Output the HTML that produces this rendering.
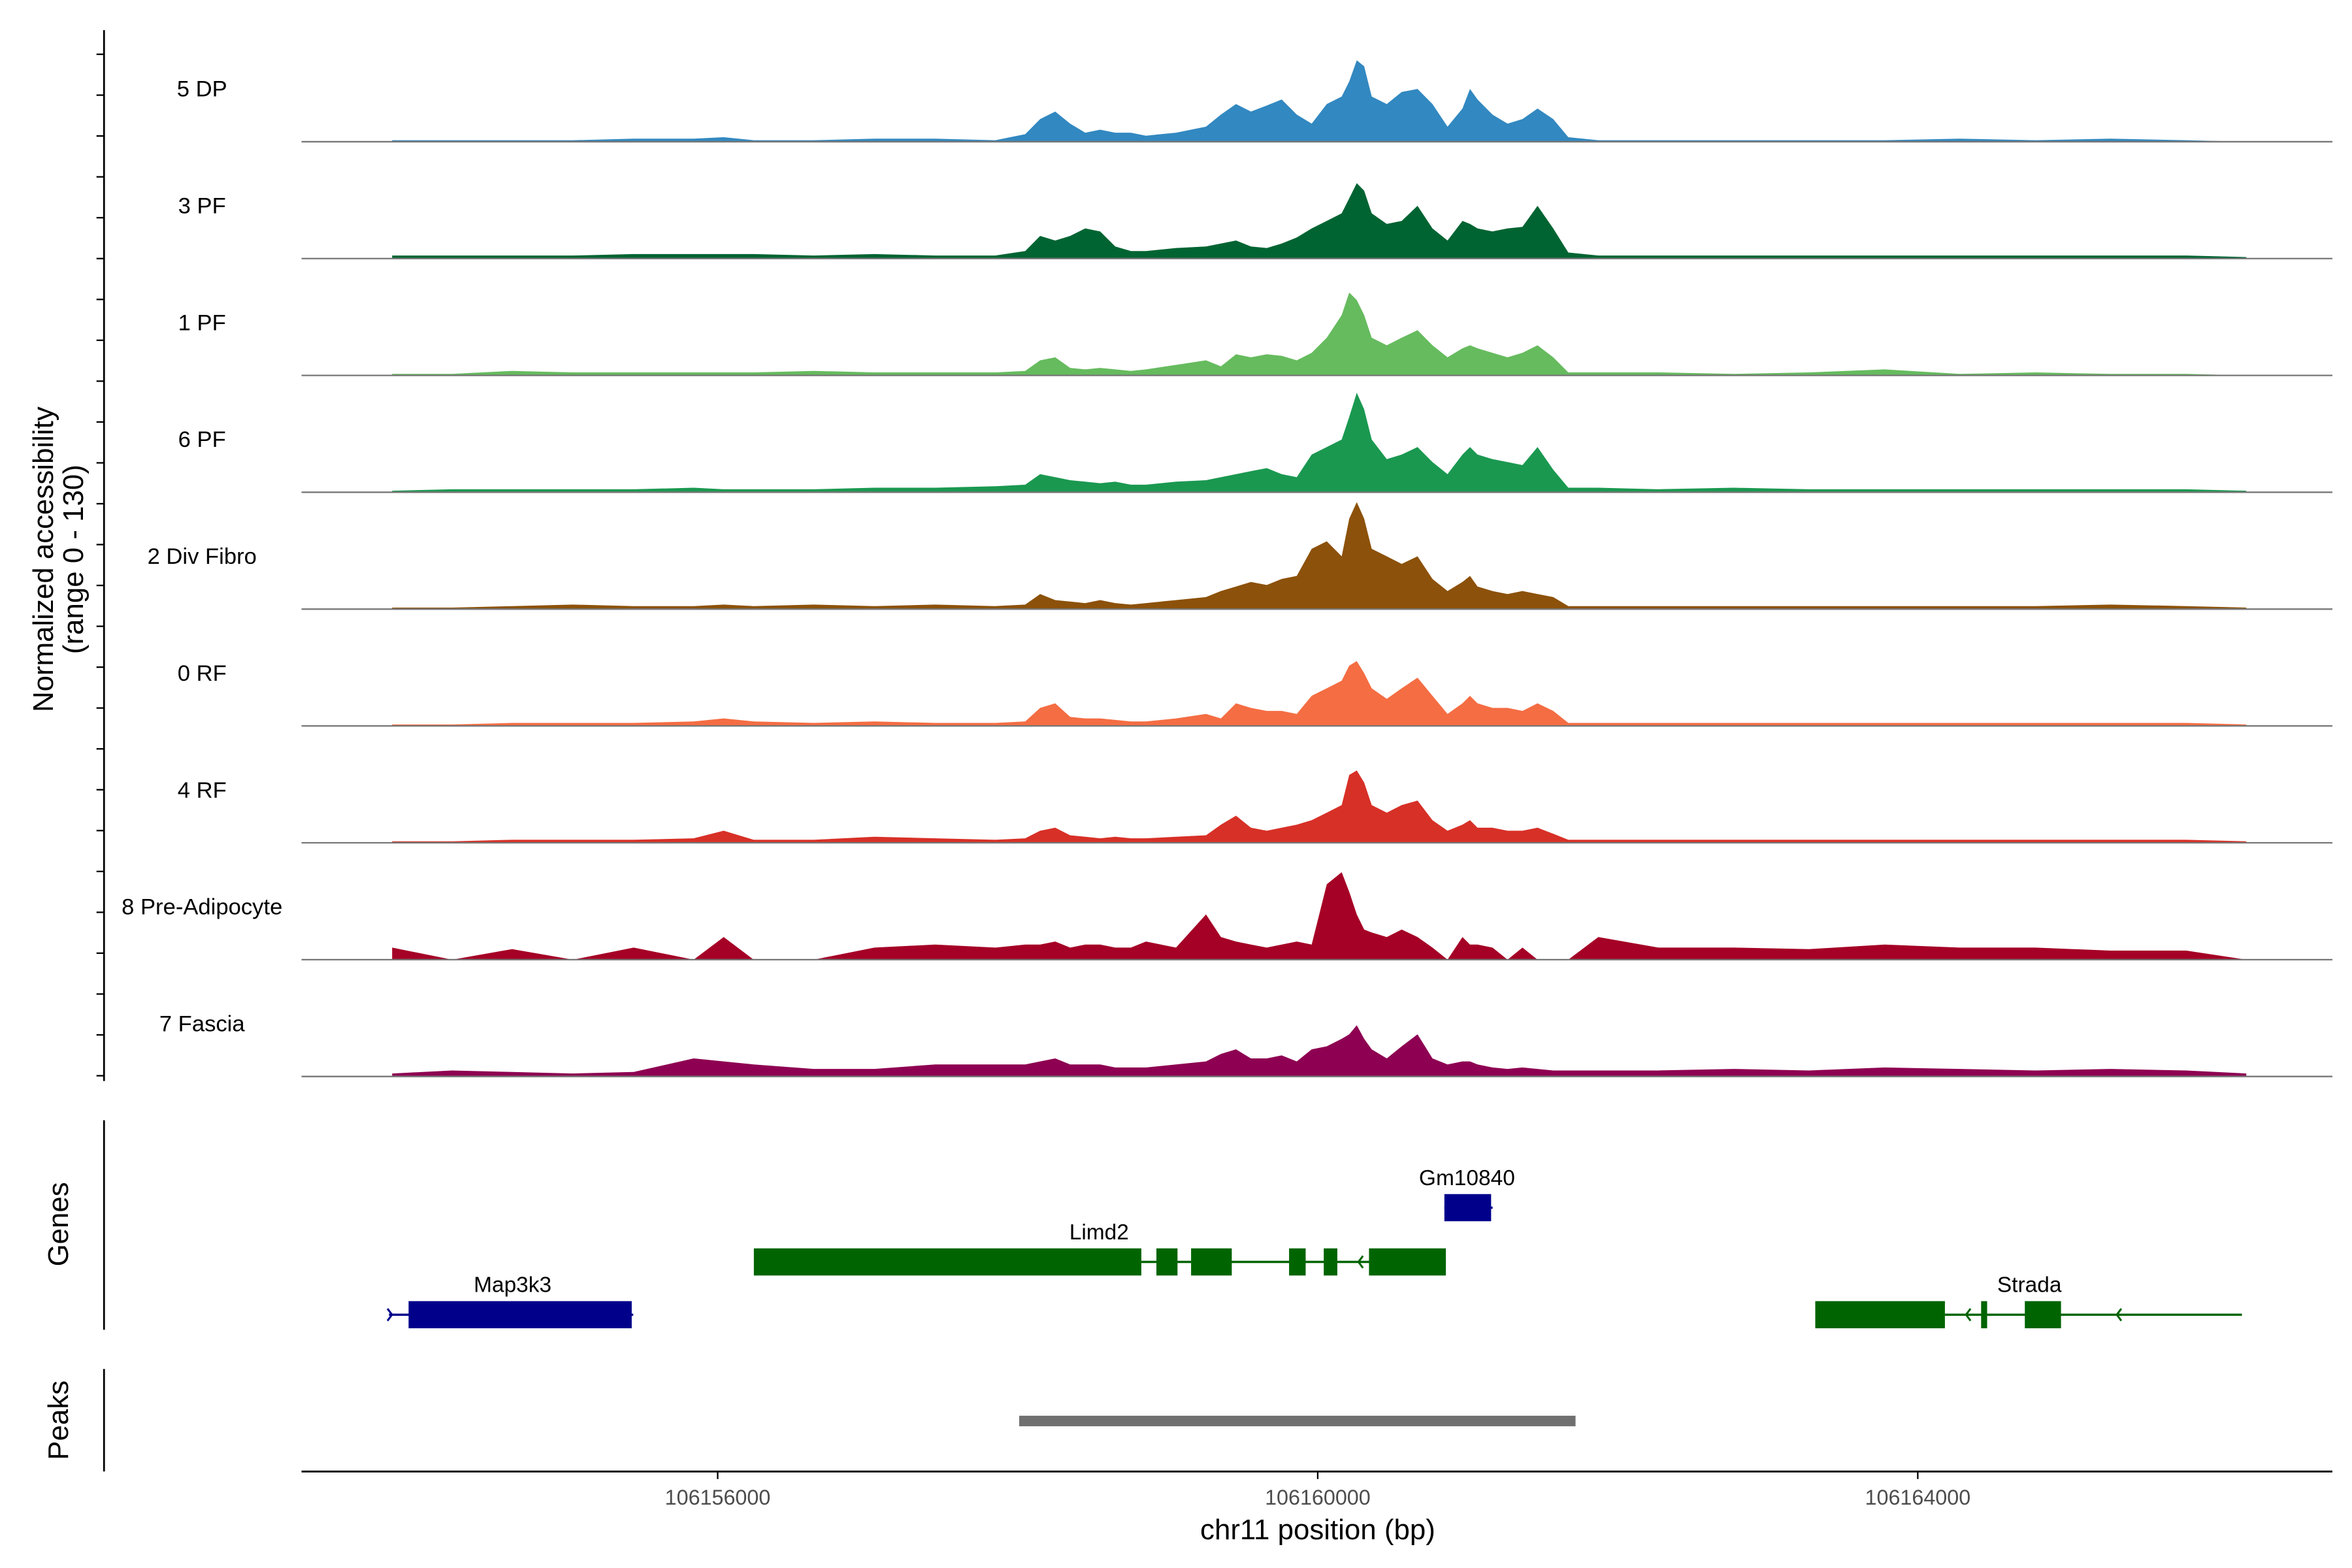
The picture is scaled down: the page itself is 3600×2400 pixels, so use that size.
<!DOCTYPE html>
<html><head><meta charset="utf-8">
<style>
html,body{margin:0;padding:0;background:#fff;}
svg{display:block;font-family:"Liberation Sans",Arial,sans-serif;}
</style></head>
<body>
<svg id="chart" width="3600" height="2400" viewBox="0 0 1560 1040" xmlns="http://www.w3.org/2000/svg">
<g id="tracks"></g>
<g id="axes">
  <line x1="69" y1="20" x2="69" y2="717" stroke="#000" stroke-width="1.2"/>
  <g id="yticks"></g>
  <text transform="translate(35,371) rotate(-90)" text-anchor="middle" font-size="19">Normalized accessibility</text>
  <text transform="translate(55,371) rotate(-90)" text-anchor="middle" font-size="19">(range 0 - 130)</text>
  <line x1="69" y1="743" x2="69" y2="882" stroke="#000" stroke-width="1.2"/>
  <text transform="translate(45,812) rotate(-90)" text-anchor="middle" font-size="19">Genes</text>
  <line x1="69" y1="908" x2="69" y2="976" stroke="#000" stroke-width="1.2"/>
  <text transform="translate(45,942) rotate(-90)" text-anchor="middle" font-size="19">Peaks</text>
  <line x1="200" y1="976" x2="1547" y2="976" stroke="#000" stroke-width="1.2"/>
  <g id="xticks"></g>
  <text x="874" y="1021" text-anchor="middle" font-size="19">chr11 position (bp)</text>
</g>
<g id="genes"></g>
<g id="peaks"></g>
</svg>
<script>
// ---- data ----
const positions = [106153830,106154230,106154630,106155035,106155440,106155840,106156040,106156240,106156640,106157045,
106157450,106157850,106158050,106158150,106158250,106158350,106158450,106158550,106158650,106158755,
106158855,106159055,106159255,106159355,106159455,106159555,106159660,106159760,106159860,106159960,
106160060,106160160,106160210,106160260,106160310,106160360,106160460,106160560,106160665,106160765,
106160865,106160965,106161015,106161065,106161165,106161265,106161365,106161465,106161570,106161670,
106161870,106162270,106162775,106163275,106163780,106164280,106164785,106165285,106165790,106166190];
const trackNames = ["5 DP","3 PF","1 PF","6 PF","2 Div Fibro","0 RF","4 RF","8 Pre-Adipocyte","7 Fascia"];
const trackColors = ["#3288c0","#006432","#66bb5e","#1a9850","#8c510a","#f46d43","#d73027","#a50026","#8e0152"];
const dp5 = [1,1,1,1,2,2,3,1,1,2, 2,1,5,15,20,12,6,8,6,6, 4,6,10,18,25,20,24,28,18,12, 25,30,40,54,50,30,25,33,35,25, 10,22,35,28,18,12,15,22,15,3, 1,1,1,1,1,2,1,2,1,0];
const pf3 = [2,2,2,2,3,3,3,3,2,3, 2,2,5,15,12,15,20,18,8,5, 5,7,8,10,12,8,7,10,14,20, 25,30,40,50,45,30,23,25,35,20, 12,25,23,20,18,20,21,35,20,4, 2,2,2,2,2,2,2,2,2,1];
const pf1 = [1,1,3,2,2,2,2,2,3,2, 2,2,3,10,12,5,4,5,4,3, 4,7,10,6,14,12,14,13,10,15, 25,40,55,50,40,25,20,25,30,20, 12,18,20,18,15,12,15,20,12,2, 2,2,1,2,4,1,2,1,1,0];
const pf6 = [1,2,2,2,2,3,2,2,2,3, 3,4,5,12,10,8,7,6,7,5, 5,7,8,10,12,14,16,12,10,25, 30,35,50,66,55,35,22,25,30,20, 12,25,30,25,22,20,18,30,15,3, 3,2,3,2,2,2,2,2,2,1];
const divFibro2 = [1,1,2,3,2,2,3,2,3,2, 3,2,3,10,6,5,4,6,4,3, 4,6,8,12,15,18,16,20,22,40, 45,35,60,71,60,40,35,30,35,20, 12,18,22,15,12,10,12,10,8,2, 2,2,2,2,2,2,2,3,2,1];
const rf0 = [1,1,2,2,2,3,5,3,2,3, 2,2,3,12,15,6,5,5,4,3, 3,5,8,5,15,12,10,10,8,20, 25,30,40,43,35,25,18,25,32,20, 8,15,20,15,12,12,10,15,10,2, 2,2,2,2,2,2,2,2,2,1];
const rf4 = [1,1,2,2,2,3,8,2,2,4, 3,2,3,8,10,5,4,3,4,3, 3,4,5,12,18,10,8,10,12,15, 20,25,45,48,40,25,20,25,28,15, 8,12,15,10,10,8,8,10,6,2, 2,2,2,2,2,2,2,2,2,1];
const preAdipo8 = [8,0,7,0,8,0,15,0,0,8, 10,8,10,10,12,8,10,10,8,8, 12,8,30,15,12,10,8,10,12,10, 50,58,45,30,20,18,15,20,15,8, 0,15,10,10,8,0,8,0,0,0, 15,8,8,7,10,8,8,6,6,0];
const fascia7 = [2,4,3,2,3,12,10,8,5,5, 8,8,8,10,12,8,8,8,6,6, 6,8,10,15,18,12,12,14,10,18, 20,25,28,34,25,18,12,20,28,12, 8,10,10,8,6,5,6,5,4,4, 4,4,5,4,6,5,4,5,4,2];
const xTicks = [106156000,106160000,106164000];
const xTickLabels = ["106156000","106160000","106164000"];

// ---- scales ----
const X0 = 106153226, X1 = 106166764, PX0 = 200, PX1 = 1547;
function xs(bp){ return PX0 + (bp - X0) / (X1 - X0) * (PX1 - PX0); }
const baselines = [94,171.5,249,326.5,404,481.5,559,636.5,714];
function ys(v, base){ return base - v; }

const NS = "http://www.w3.org/2000/svg";
function mk(tag, attrs, parent){ const e=document.createElementNS(NS,tag); for(const k in attrs) e.setAttribute(k,attrs[k]); parent.appendChild(e); return e; }

const series = [dp5,pf3,pf1,pf6,divFibro2,rf0,rf4,preAdipo8,fascia7];
const tg = document.getElementById("tracks");
series.forEach((vals, i) => {
  const base = baselines[i];
  let d = "M" + xs(positions[0]).toFixed(1) + "," + base;
  vals.forEach((v, j) => { d += " L" + xs(positions[j]).toFixed(1) + "," + ys(v, base).toFixed(1); });
  d += " L" + xs(positions[positions.length-1]).toFixed(1) + "," + base + " Z";
  const p = mk("path", {d: d, fill: trackColors[i]}, tg);
  
  
  const l = mk("line", {x1: PX0, x2: PX1, y1: base, y2: base, stroke: "#777", "stroke-width": 1}, tg);
  
  
  const t = mk("text", {x: 134, y: base - 30, "text-anchor": "middle", "font-size": 15}, tg);
  t.textContent = trackNames[i];
  
  
});

const yt = document.getElementById("yticks");
for (let k = 0; k < 26; k++) {
  const y = 36 + k * 27.1;
  const tk = mk("line", {x1: 64, x2: 69, y1: y, y2: y, stroke: "#000", "stroke-width": 1}, yt);
  
  
}

const xt = document.getElementById("xticks");
xTicks.forEach((b, i) => {
  const x = xs(b);
  const tk = mk("line", {x1: x, x2: x, y1: 976, y2: 981, stroke: "#000", "stroke-width": 1}, xt);
  
  
  const t = mk("text", {x: x, y: 998, "text-anchor": "middle", "font-size": 14, fill: "#4d4d4d"}, xt);
  t.textContent = xTickLabels[i];
  
  
});

// genes
const gg = document.getElementById("genes");
const BLUE = "#00008b", GREEN = "#006400";
function rect(x1,x2,y,h,c,name){ const r=mk("rect",{x:x1,y:y-h/2,width:x2-x1,height:h,fill:c},gg);   }
function line(x1,x2,y,c,name){ const r=mk("line",{x1:x1,x2:x2,y1:y,y2:y,stroke:c,"stroke-width":1.5},gg);   }
function label(x,y,s,name){ const t=mk("text",{x:x,y:y,"text-anchor":"middle","font-size":14.5},gg); t.textContent=s;   }
function arrow(x,y,c,dir){ const a=mk("path",{d:`M${x+3*dir},${y-4} L${x},${y} L${x+3*dir},${y+4}`,stroke:c,fill:"none","stroke-width":1.3},gg);   }

line(258,420,872,BLUE,"map3k3-intron");
rect(271,419,872,18,BLUE,"map3k3-exon");
arrow(260,872,BLUE,-1);
label(340,857,"Map3k3","map3k3-label");

line(757,959,837,GREEN,"limd2-intron");
[[500,757],[767,781],[790,817],[855,866],[878,887],[908,959]].forEach(e=>rect(e[0],e[1],837,18,GREEN,"limd2-exon"));
arrow(901,837,GREEN,1);
label(729,822,"Limd2","limd2-label");

rect(958,989,801,18,BLUE,"gm10840-exon");
line(958,990,801,BLUE,"gm10840-line");
label(973,786,"Gm10840","gm10840-label");

line(1290,1487,872,GREEN,"strada-intron");
[[1204,1290],[1314,1318],[1343,1367]].forEach(e=>rect(e[0],e[1],872,18,GREEN,"strada-exon"));
arrow(1304,872,GREEN,1); arrow(1404,872,GREEN,1);
label(1346,857,"Strada","strada-label");

const pk = mk("rect",{x:676,y:939,width:369,height:7,fill:"#707070"},document.getElementById("peaks"));


</script>
</body></html>
